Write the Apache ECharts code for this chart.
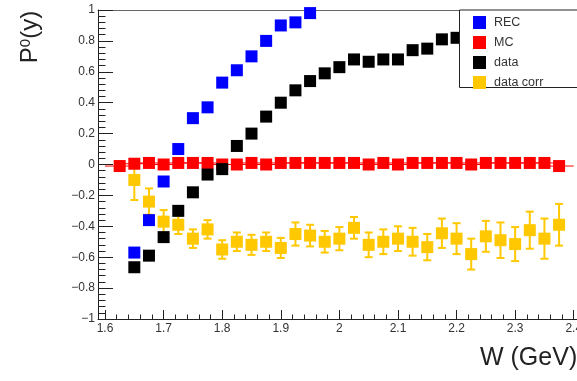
<!DOCTYPE html>
<html>
<head>
<meta charset="utf-8">
<script src="https://cdn.jsdelivr.net/npm/echarts@6/dist/echarts.min.js"></script>
<style>
  html, body { margin: 0; padding: 0; background: #fff; }
  #chart { width: 577px; height: 381px; }
</style>
</head>
<body>
<div id="chart"></div>
<script>
// Polarisation P0(y) versus W, four data sets

// MC reconstruction (REC)
const recW    = [1.65, 1.675, 1.70, 1.725, 1.75, 1.775, 1.80, 1.825, 1.85, 1.875, 1.90, 1.925, 1.95];
const recVals = [-0.57, -0.36, -0.11, 0.10, 0.30, 0.37, 0.53, 0.61, 0.70, 0.80, 0.90, 0.92, 0.98];

// MC generated (MC)
const mcW    = [1.625, 1.65, 1.675, 1.70, 1.725, 1.75, 1.775, 1.80, 1.825, 1.85, 1.875, 1.90, 1.925, 1.95, 1.975, 2.0,
                2.025, 2.05, 2.075, 2.10, 2.125, 2.15, 2.175, 2.20, 2.225, 2.25, 2.275, 2.30, 2.325, 2.35, 2.375];
const mcVals = [-0.01, 0.005, 0.01, 0.0, 0.01, 0.01, 0.01, 0.0, 0.0, 0.01, 0.0, 0.01, 0.01, 0.01, 0.01, 0.01,
                0.01, 0.0, 0.01, 0.0, 0.01, 0.01, 0.01, 0.01, 0.0, 0.01, 0.01, 0.01, 0.01, 0.01, -0.01];
const mcXErr = 0.025;

// measured (data)
const dataW    = [1.65, 1.675, 1.70, 1.725, 1.75, 1.775, 1.80, 1.825, 1.85, 1.875, 1.90, 1.925, 1.95, 1.975, 2.0,
                  2.025, 2.05, 2.075, 2.10, 2.125, 2.15, 2.175, 2.20];
const dataVals = [-0.665, -0.59, -0.47, -0.30, -0.18, -0.065, -0.03, 0.12, 0.20, 0.31, 0.40, 0.48, 0.54, 0.59, 0.63,
                  0.68, 0.665, 0.68, 0.68, 0.74, 0.75, 0.81, 0.82];

// corrected measurement (data corr) with errors
const corrW    = [1.65, 1.675, 1.70, 1.725, 1.75, 1.775, 1.80, 1.825, 1.85, 1.875, 1.90, 1.925, 1.95, 1.975, 2.0,
                  2.025, 2.05, 2.075, 2.10, 2.125, 2.15, 2.175, 2.20, 2.225, 2.25, 2.275, 2.30, 2.325, 2.35, 2.375];
const corrVals = [-0.10, -0.24, -0.37, -0.39, -0.48, -0.42, -0.55, -0.50, -0.52, -0.50, -0.54, -0.45, -0.46, -0.50, -0.48,
                  -0.41, -0.52, -0.50, -0.48, -0.50, -0.535, -0.445, -0.48, -0.58, -0.465, -0.49, -0.515, -0.425, -0.48, -0.39];
const corrErrs = [0.13, 0.085, 0.075, 0.06, 0.06, 0.06, 0.06, 0.06, 0.065, 0.06, 0.065, 0.075, 0.07, 0.07, 0.075,
                  0.07, 0.08, 0.08, 0.08, 0.09, 0.085, 0.095, 0.10, 0.10, 0.10, 0.115, 0.11, 0.12, 0.13, 0.135];

// axis ticks
const xMajorTicks = [1.6, 1.7, 1.8, 1.9, 2.0, 2.1, 2.2, 2.3, 2.4];
const legendNames = ['REC', 'MC', 'data', 'data corr'];

const X_MIN = 1.588, X_MAX = 2.409;
const FONT = '"Liberation Sans", Arial, Helvetica, sans-serif';
const AXIS_COLOR = '#222';
const LABEL_COLOR = '#333';
const C_REC = '#0000ff', C_MC = '#ff0000', C_DATA = '#000000', C_CORR = '#ffc800';

const xMinorTicks = [];
for (let i = 0; i <= 40; i++) {
  if (i % 5 !== 0) xMinorTicks.push(+(1.6 + i * 0.02).toFixed(2));
}

const zip = (xs, ys, es) => xs.map((x, i) => es ? [x, ys[i], es[i]] : [x, ys[i]]);
const fmtNum = v => {
  const r = Math.round(v * 10) / 10;
  return String(r).replace('-', '\u2212');
};
const squares = color => ({
  type: 'scatter', symbol: 'rect', symbolSize: 12,
  itemStyle: { color: color, opacity: 1 },
  emphasis: { disabled: true }
});

const chart = echarts.init(document.getElementById('chart'), null, { renderer: 'canvas' });

const option = {
  animation: false,
  grid: {
    left: 98, right: -2, top: 10, bottom: 62,
    outerBoundsMode: 'none', containLabel: false,
    show: false
  },
  xAxis: [
    {
      type: 'value', min: X_MIN, max: X_MAX, position: 'bottom',
      axisLine: { show: true, onZero: false, lineStyle: { color: AXIS_COLOR, width: 1 } },
      splitLine: { show: false },
      axisTick: { show: true, inside: true, length: 9, customValues: xMajorTicks, lineStyle: { color: AXIS_COLOR } },
      axisLabel: {
        show: true, customValues: xMajorTicks, formatter: fmtNum, margin: 4,
        fontSize: 12, color: LABEL_COLOR, fontFamily: FONT
      }
    },
    {
      type: 'value', min: X_MIN, max: X_MAX, position: 'top', offset: 0,
      axisLine: { show: true, onZero: false, lineStyle: { color: '#666', width: 1 } },
      splitLine: { show: false },
      axisLabel: { show: false },
      axisTick: { show: false }
    },
    {
      type: 'value', min: X_MIN, max: X_MAX, position: 'bottom', offset: 0,
      axisLine: { show: false, onZero: false },
      splitLine: { show: false },
      axisLabel: { show: false },
      axisTick: { show: true, inside: true, length: 4.5, customValues: xMinorTicks, lineStyle: { color: AXIS_COLOR } }
    }
  ],
  yAxis: {
    type: 'value', min: -1, max: 1, interval: 0.2,
    axisLine: { show: true, onZero: false, lineStyle: { color: AXIS_COLOR, width: 1 } },
    axisTick: { show: true, inside: true, length: 15, lineStyle: { color: AXIS_COLOR } },
    minorTick: { show: true, splitNumber: 5, length: 7.5, lineStyle: { color: AXIS_COLOR } },
    splitLine: { show: false },
    minorSplitLine: { show: false },
    axisLabel: { formatter: fmtNum, margin: 3, fontSize: 12, color: LABEL_COLOR, fontFamily: FONT }
  },
  legend: {
    orient: 'vertical', left: 468, top: 11,
    itemWidth: 13, itemHeight: 13, itemGap: 7, icon: 'rect', z: 5,
    selectedMode: false,
    textStyle: { fontSize: 12.5, color: LABEL_COLOR, fontFamily: FONT, padding: [0, 0, 0, 3] },
    data: legendNames
  },
  graphic: [
    {
      type: 'polyline', z: 3,
      shape: { points: [[620, 87.5], [459.5, 87.5], [459.5, 10], [620, 10]] },
      style: { fill: '#fff', stroke: '#222', lineWidth: 1 }
    },
    {
      type: 'text', x: 30, y: 37, rotation: Math.PI / 2, z: 5,
      style: {
        text: '{p|P}{s|0}{p|(y)}',
        align: 'center', verticalAlign: 'middle',
        rich: {
          p: { fontSize: 24, fontFamily: FONT, fill: '#222' },
          s: { fontSize: 15, fontFamily: FONT, fill: '#222', verticalAlign: 'top', padding: [0, 0, 6, 0] }
        }
      }
    },
    {
      type: 'text', x: 480, y: 358, z: 5,
      style: {
        text: 'W (GeV)', align: 'left', verticalAlign: 'middle',
        fontSize: 25, fontFamily: FONT, fill: '#222'
      }
    }
  ],
  series: [
    Object.assign(squares(C_REC), { name: 'REC', data: zip(recW, recVals) }),
    {
      name: 'MC width', type: 'custom',
      encode: { x: 0, y: 1 },
      data: zip(mcW, mcVals),
      renderItem: (params, api) => {
        const x = api.value(0), y = api.value(1);
        const a = api.coord([x - mcXErr, y]), b = api.coord([x + mcXErr, y]);
        return {
          type: 'line',
          shape: { x1: a[0], y1: a[1], x2: b[0], y2: b[1] },
          style: { stroke: C_MC, lineWidth: 1 }
        };
      }
    },
    Object.assign(squares(C_MC), { name: 'MC', data: zip(mcW, mcVals) }),
    Object.assign(squares(C_DATA), { name: 'data', data: zip(dataW, dataVals) }),
    {
      name: 'data corr errors', type: 'custom',
      encode: { x: 0, y: 1 },
      data: zip(corrW, corrVals, corrErrs),
      renderItem: (params, api) => {
        const x = api.value(0), y = api.value(1), e = api.value(2);
        const hi = api.coord([x, y + e]), lo = api.coord([x, y - e]);
        const cap = 4;
        const st = { stroke: C_CORR, lineWidth: 2 };
        return {
          type: 'group',
          children: [
            { type: 'line', shape: { x1: hi[0], y1: hi[1], x2: lo[0], y2: lo[1] }, style: st },
            { type: 'line', shape: { x1: hi[0] - cap, y1: hi[1], x2: hi[0] + cap, y2: hi[1] }, style: st },
            { type: 'line', shape: { x1: lo[0] - cap, y1: lo[1], x2: lo[0] + cap, y2: lo[1] }, style: st }
          ]
        };
      }
    },
    Object.assign(squares(C_CORR), { name: 'data corr', data: zip(corrW, corrVals) })
  ]
};

chart.setOption(option);
</script>
</body>
</html>
